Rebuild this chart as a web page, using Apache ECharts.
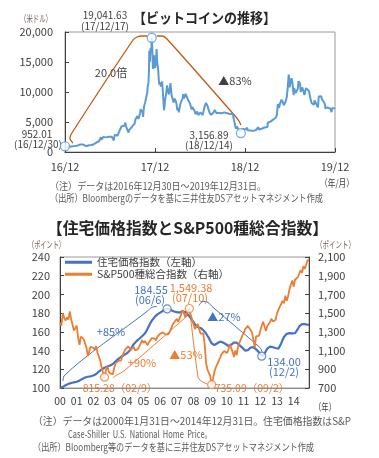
<!DOCTYPE html>
<html><head><meta charset="utf-8">
<script src="https://cdn.jsdelivr.net/npm/echarts@6/dist/echarts.min.js"></script>
<style>html,body{margin:0;padding:0;background:#fff}#c{width:379px;height:458px}</style>
</head><body><div id="c"></div>
<script>
const FONT = '"Noto Sans CJK JP","Noto Sans",sans-serif';

// ---------- Top chart: Bitcoin (USD) ----------
const btcStart = '2016-12-30';
const btcEnd = '2019-12-31';
const btcPrices = [
['2016-12-30',952.01],['2017-01-01',998],['2017-01-04',1154],['2017-01-05',1013],['2017-01-07',894],['2017-01-11',780],['2017-01-14',818],['2017-01-18',870],['2017-01-22',925],['2017-01-26',915],['2017-01-31',965],
['2017-02-04',1032],['2017-02-08',1062],['2017-02-11',1000],['2017-02-15',1010],['2017-02-20',1080],['2017-02-24',1180],['2017-02-28',1190],
['2017-03-03',1260],['2017-03-10',1120],['2017-03-14',1245],['2017-03-18',970],['2017-03-22',1045],['2017-03-26',960],['2017-03-31',1080],
['2017-04-05',1130],['2017-04-10',1200],['2017-04-15',1180],['2017-04-20',1230],['2017-04-25',1265],['2017-04-30',1350],
['2017-05-05',1545],['2017-05-09',1725],['2017-05-13',1740],['2017-05-17',1790],['2017-05-21',2050],['2017-05-25',2480],['2017-05-27',2050],['2017-05-31',2300],
['2017-06-04',2520],['2017-06-08',2800],['2017-06-12',2660],['2017-06-15',2440],['2017-06-19',2600],['2017-06-23',2720],['2017-06-27',2550],['2017-06-30',2480],
['2017-07-04',2600],['2017-07-08',2550],['2017-07-12',2370],['2017-07-16',1930],['2017-07-20',2870],['2017-07-24',2760],['2017-07-28',2790],
['2017-08-01',2720],['2017-08-05',3230],['2017-08-08',3420],['2017-08-12',3880],['2017-08-15',4180],['2017-08-17',4300],['2017-08-20',4100],['2017-08-24',4320],['2017-08-28',4380],
['2017-09-01',4900],['2017-09-04',4240],['2017-09-08',4230],['2017-09-12',4170],['2017-09-14',3240],['2017-09-17',3700],['2017-09-20',3930],['2017-09-24',3680],['2017-09-28',4210],
['2017-10-01',4400],['2017-10-05',4230],['2017-10-09',4770],['2017-10-12',5440],['2017-10-15',5690],['2017-10-20',6000],['2017-10-24',5520],['2017-10-28',5770],['2017-10-31',6470],
['2017-11-02',7140],['2017-11-05',7400],['2017-11-08',7460],['2017-11-10',6620],['2017-11-12',5860],['2017-11-15',7320],['2017-11-17',7790],['2017-11-20',8200],['2017-11-24',8200],['2017-11-26',9330],['2017-11-29',9900],
['2017-12-01',10980],['2017-12-04',11600],['2017-12-06',13750],['2017-12-07',16870],['2017-12-08',16050],['2017-12-10',15060],['2017-12-12',17280],['2017-12-14',16400],['2017-12-16',17700],['2017-12-17',19041.63],['2017-12-18',18960],['2017-12-19',17600],['2017-12-20',16500],['2017-12-22',13830],['2017-12-24',13900],['2017-12-26',16100],['2017-12-28',14400],['2017-12-31',14000],
['2018-01-02',14950],['2018-01-04',15200],['2018-01-06',17170],['2018-01-08',14970],['2018-01-10',14400],['2018-01-12',13900],['2018-01-14',13650],['2018-01-16',11250],['2018-01-17',11100],['2018-01-19',11600],['2018-01-21',11600],['2018-01-23',10900],['2018-01-25',11200],['2018-01-28',11750],['2018-01-31',10220],
['2018-02-02',8830],['2018-02-05',6950],['2018-02-07',7620],['2018-02-09',8600],['2018-02-12',8900],['2018-02-15',10170],['2018-02-17',11100],['2018-02-20',11400],['2018-02-22',10000],['2018-02-25',9600],['2018-02-28',10400],
['2018-03-03',11500],['2018-03-05',11600],['2018-03-08',9400],['2018-03-11',9600],['2018-03-13',9100],['2018-03-16',8270],['2018-03-18',8200],['2018-03-20',8900],['2018-03-22',8700],['2018-03-25',8470],['2018-03-28',7900],['2018-03-31',6930],
['2018-04-03',7400],['2018-04-06',6620],['2018-04-09',6780],['2018-04-12',7900],['2018-04-15',8350],['2018-04-18',8170],['2018-04-21',8850],['2018-04-24',9650],['2018-04-27',8940],['2018-04-30',9240],
['2018-05-04',9700],['2018-05-07',9370],['2018-05-10',9020],['2018-05-13',8710],['2018-05-16',8480],['2018-05-19',8250],['2018-05-22',8050],['2018-05-25',7480],['2018-05-28',7110],['2018-05-31',7490],
['2018-06-04',7490],['2018-06-07',7690],['2018-06-10',6770],['2018-06-13',6300],['2018-06-16',6540],['2018-06-20',6740],['2018-06-24',6160],['2018-06-28',5900],['2018-06-30',6390],
['2018-07-03',6590],['2018-07-06',6550],['2018-07-09',6740],['2018-07-12',6150],['2018-07-15',6350],['2018-07-18',7330],['2018-07-22',7400],['2018-07-25',8190],['2018-07-28',8240],['2018-07-31',7740],
['2018-08-03',7420],['2018-08-06',6930],['2018-08-09',6560],['2018-08-12',6290],['2018-08-14',6190],['2018-08-17',6310],['2018-08-20',6290],['2018-08-23',6500],['2018-08-26',6710],['2018-08-30',6990],
['2018-09-02',7270],['2018-09-05',6520],['2018-09-08',6230],['2018-09-12',6340],['2018-09-16',6500],['2018-09-20',6480],['2018-09-22',6710],['2018-09-26',6450],['2018-09-30',6630],
['2018-10-04',6550],['2018-10-08',6600],['2018-10-11',6270],['2018-10-15',6540],['2018-10-19',6450],['2018-10-23',6450],['2018-10-27',6460],['2018-10-31',6320],
['2018-11-04',6460],['2018-11-08',6440],['2018-11-12',6370],['2018-11-14',5650],['2018-11-17',5600],['2018-11-19',4800],['2018-11-20',4450],['2018-11-22',4300],['2018-11-24',3880],['2018-11-25',4010],['2018-11-28',4280],['2018-11-30',4020],
['2018-12-03',3820],['2018-12-06',3510],['2018-12-09',3610],['2018-12-12',3480],['2018-12-14',3156.89],['2018-12-16',3250],['2018-12-19',3750],['2018-12-21',3900],['2018-12-24',4040],['2018-12-27',3580],['2018-12-31',3740],
['2019-01-03',3790],['2019-01-06',4050],['2019-01-09',4020],['2019-01-10',3620],['2019-01-14',3680],['2019-01-18',3600],['2019-01-22',3600],['2019-01-26',3580],['2019-01-29',3420],
['2019-02-02',3520],['2019-02-06',3400],['2019-02-08',3650],['2019-02-12',3620],['2019-02-16',3620],['2019-02-19',3910],['2019-02-23',4140],['2019-02-24',3740],['2019-02-28',3850],
['2019-03-04',3740],['2019-03-08',3880],['2019-03-12',3920],['2019-03-16',4040],['2019-03-20',4080],['2019-03-24',4030],['2019-03-28',4040],
['2019-04-01',4150],['2019-04-02',4880],['2019-04-05',5060],['2019-04-09',5190],['2019-04-13',5070],['2019-04-17',5240],['2019-04-21',5320],['2019-04-25',5430],['2019-04-29',5290],
['2019-05-02',5630],['2019-05-05',5760],['2019-05-09',6170],['2019-05-11',7060],['2019-05-13',7990],['2019-05-16',7880],['2019-05-18',7360],['2019-05-21',7970],['2019-05-25',8060],['2019-05-28',8720],['2019-05-31',8570],
['2019-06-03',8200],['2019-06-06',7800],['2019-06-09',7650],['2019-06-12',8230],['2019-06-15',8690],['2019-06-18',9080],['2019-06-22',10700],['2019-06-24',11000],['2019-06-26',12900],['2019-06-28',12400],['2019-06-30',10800],
['2019-07-02',10600],['2019-07-05',10980],['2019-07-08',12300],['2019-07-10',12100],['2019-07-12',11350],['2019-07-14',10300],['2019-07-16',9470],['2019-07-18',10650],['2019-07-21',10530],['2019-07-24',9850],['2019-07-27',9530],['2019-07-30',9550],
['2019-08-02',10500],['2019-08-05',11800],['2019-08-08',11900],['2019-08-11',11400],['2019-08-14',10020],['2019-08-17',10370],['2019-08-20',10760],['2019-08-23',10400],['2019-08-26',10320],['2019-08-29',9500],
['2019-09-01',9630],['2019-09-04',10610],['2019-09-08',10400],['2019-09-12',10350],['2019-09-16',10200],['2019-09-20',10180],['2019-09-24',8560],['2019-09-27',8160],['2019-09-30',8310],
['2019-10-03',8210],['2019-10-06',7870],['2019-10-09',8590],['2019-10-12',8330],['2019-10-16',8000],['2019-10-20',8220],['2019-10-23',7430],['2019-10-25',8660],['2019-10-26',9250],['2019-10-29',9420],
['2019-11-01',9260],['2019-11-05',9310],['2019-11-08',8800],['2019-11-12',8760],['2019-11-16',8500],['2019-11-19',8120],['2019-11-22',7290],['2019-11-25',7150],['2019-11-28',7530],
['2019-12-01',7420],['2019-12-04',7190],['2019-12-08',7510],['2019-12-12',7240],['2019-12-15',7090],['2019-12-17',6640],['2019-12-19',7280],['2019-12-22',7510],['2019-12-25',7240],['2019-12-28',7300],['2019-12-31',7200]
];
const btcMarks = [['2016-12-30',952.01],['2017-12-17',19041.63],['2018-12-14',3156.89]];
// annotation brackets: [days since start, USD]
const btcRiseBracket = [[32,1500],[20,2300],[28,3167],[276,18667],[292,19167],[313,19333],[333,19333]];
const btcFallBracket = [[373,19333],[394,19333],[414,18833],[694,5833],[706,5167],[714,4500]];

// ---------- Bottom chart: monthly 2000-01 .. 2014-12 ----------
const yearLabels = ['00','01','02','03','04','05','06','07','08','09','10','11','12','13','14'];
const housingIndex = [
100.0,100.5,101.2,102.0,102.9,103.7,104.4,104.9,105.3,105.7,106.0,106.3,
106.7,107.2,107.9,108.8,109.7,110.5,111.2,111.7,112.0,112.3,112.5,112.8,
113.3,113.9,114.9,116.2,117.6,118.9,120.0,120.9,121.7,122.4,123.0,123.6,
124.1,124.7,125.7,127.0,128.4,129.8,131.1,132.3,133.4,134.4,135.3,136.2,
137.0,138.1,139.8,142.0,144.5,146.8,148.7,150.1,151.3,152.6,153.9,155.3,
156.7,158.3,160.6,163.5,166.5,169.4,172.0,174.1,175.8,177.4,178.7,179.8,
180.6,181.3,182.5,183.6,184.3,184.55,184.4,183.8,183.0,182.3,181.8,181.5,
181.0,180.4,180.6,181.4,181.9,181.9,181.2,179.9,178.4,176.7,174.8,172.8,
170.4,168.0,166.3,165.2,164.7,164.2,163.3,161.9,160.2,158.2,155.8,153.5,
150.6,147.8,146.2,145.8,146.5,147.8,148.9,149.5,149.4,148.8,147.9,147.1,
146.0,144.8,144.8,146.1,147.7,148.6,148.8,148.4,147.2,145.8,144.6,143.2,
141.6,140.0,139.5,140.4,142.0,143.3,143.8,143.7,142.8,141.3,139.7,138.3,
135.9,134.0,134.4,136.6,139.5,142.1,143.5,144.2,144.1,143.6,143.0,142.7,
142.2,142.0,143.9,147.6,151.4,154.5,156.6,157.9,158.5,158.7,158.5,158.4,
158.5,158.5,160.2,163.1,165.8,167.6,168.4,168.6,168.3,168.0,167.6,167.4
];
const sp500 = [
1394.46,1366.42,1498.58,1452.43,1420.60,1454.60,1430.83,1517.68,1436.51,1429.40,1314.95,1320.28,
1366.01,1239.94,1160.33,1249.46,1255.82,1224.42,1211.23,1133.58,1040.94,1059.78,1139.45,1148.08,
1130.20,1106.73,1147.39,1076.92,1067.14,989.82,911.62,916.07,815.28,885.76,936.31,879.82,
855.70,841.15,848.18,916.92,963.59,974.50,990.31,1008.01,995.97,1050.71,1058.20,1111.92,
1131.13,1144.94,1126.21,1107.30,1120.68,1140.84,1101.72,1104.24,1114.58,1130.20,1173.82,1211.92,
1181.27,1203.60,1180.59,1156.85,1191.50,1191.33,1234.18,1220.33,1228.81,1207.01,1249.48,1248.29,
1280.08,1280.66,1294.83,1310.61,1270.09,1270.20,1276.66,1303.82,1335.85,1377.94,1400.63,1418.30,
1438.24,1406.82,1420.86,1482.37,1530.62,1503.35,1455.27,1473.99,1526.75,1549.38,1481.14,1468.36,
1378.55,1330.63,1322.70,1385.59,1400.38,1280.00,1267.38,1282.83,1166.36,968.75,896.24,903.25,
825.88,735.09,797.87,872.81,919.14,919.32,987.48,1020.62,1057.08,1036.19,1095.63,1115.10,
1073.87,1104.49,1169.43,1186.69,1089.41,1030.71,1101.60,1049.33,1141.20,1183.26,1180.55,1257.64,
1286.12,1327.22,1325.83,1363.61,1345.20,1320.64,1292.28,1218.89,1131.42,1253.30,1246.96,1257.60,
1312.41,1365.68,1408.47,1397.91,1310.33,1362.16,1379.32,1406.58,1440.67,1412.16,1416.18,1426.19,
1498.11,1514.68,1569.19,1597.57,1630.74,1606.28,1685.73,1632.97,1681.55,1756.54,1805.81,1848.36,
1782.59,1859.45,1872.34,1883.95,1923.57,1960.23,1930.67,2003.37,1972.29,2018.05,2067.56,2058.90
];
const housingMarks = [['2006-06',184.55],['2012-02',134.00]];
const spMarks = [['2002-09',815.28],['2007-10',1549.38],['2009-02',735.09]];
// annotation brackets: [month index, value]
const housingRiseBracket = [[2.2,107.5],[2.9,112.9],[62.5,181.8],[66.1,186.2],[69.7,187.2]];
const housingFallBracket = [[99.9,188.3],[102.8,192.6],[106.4,191.5],[110.0,186.2],[143.8,143.1],[145.2,138.8]];
const spRiseBracket = [[38.1,807.7],[41.0,840],[46.0,883],[93.5,1497]];
const spFallBracket = [[93.5,1508],[99.2,818],[101.4,775],[105.7,743]];

// ---------- helpers ----------
const DAY = 86400000;
const t0 = Date.parse(btcStart + 'T00:00:00Z');
const dayIndex = d => Math.round((Date.parse(d + 'T00:00:00Z') - t0) / DAY);
const btcSpan = dayIndex(btcEnd);
const monthIndex = s => { const [y, m] = s.split('-').map(Number); return (y - 2000) * 12 + (m - 1); };

const mctx = document.createElement('canvas').getContext('2d');
function measure(str, size, weight) { mctx.font = (weight || 'normal') + ' ' + size + 'px ' + FONT; return mctx.measureText(str).width; }
function fitText(str, left, right, y, size, color, weight) {
  const w = measure(str, size, weight);
  return { type: 'text', x: left, y: y, scaleX: (right - left) / w, silent: true,
    style: { text: str, x: 0, y: 0, fill: color, font: (weight || 'normal') + ' ' + size + 'px ' + FONT,
      align: 'left', verticalAlign: 'middle', textAlign: 'left', textVerticalAlign: 'middle' } };
}
function label(str, cx, y, size, color) {
  return { type: 'text', x: cx, y: y, silent: true,
    style: { text: str, x: 0, y: 0, fill: color, font: size + 'px ' + FONT,
      align: 'center', verticalAlign: 'middle', textAlign: 'center', textVerticalAlign: 'middle' } };
}

const AX = '#404040', TXT = '#404040', UNIT = '#6e5f55';
const BLUE = '#4472C4', ORANGE = '#ED7D31', BTC = '#5B9BD5', BR = '#C55A11';

const chart = echarts.init(document.getElementById('c'), null, { renderer: 'canvas' });
chart.setOption({
  animation: false,
  backgroundColor: '#fff',
  textStyle: { fontFamily: FONT },
  grid: [
    { left: 65, top: 32, width: 270, height: 120, show: true, borderColor: '#9a9a9a', borderWidth: 1 },
    { left: 60, top: 257, width: 249, height: 131, show: true, borderColor: '#9a9a9a', borderWidth: 1 }
  ],
  legend: {
    left: 65, top: 257, orient: 'vertical', padding: 0, itemGap: 1.5,
    itemWidth: 27, itemHeight: 3, icon: 'rect',
    textStyle: { fontSize: 10.5, color: TXT, fontFamily: FONT },
    data: ['住宅価格指数（左軸）', 'S&P500種総合指数（右軸）']
  },
  xAxis: [
    { type: 'value', gridIndex: 0, min: 0, max: btcSpan, interval: btcSpan / 3,
      axisLine: { show: true, lineStyle: { color: AX } },
      axisTick: { show: true, inside: true, length: 4, lineStyle: { color: AX } },
      splitLine: { show: false },
      axisLabel: { margin: 9, fontSize: 11, color: TXT, fontFamily: FONT, showMinLabel: true, showMaxLabel: true,
        formatter: v => { const d = new Date(t0 + v * DAY); return String(d.getUTCFullYear()).slice(2) + '/' + String(d.getUTCMonth() + 1).padStart(2, '0'); } } },
    { type: 'value', gridIndex: 1, min: 0, max: housingIndex.length - 1, interval: 12,
      axisLine: { show: true, lineStyle: { color: '#8c8c8c' } },
      axisTick: { show: false }, splitLine: { show: false },
      axisLabel: { margin: 8, fontSize: 10.5, color: TXT, fontFamily: FONT, showMinLabel: true, showMaxLabel: true,
        formatter: v => (Math.round(v) % 12 === 0 && yearLabels[Math.round(v) / 12]) ? yearLabels[Math.round(v) / 12] : '' } }
  ],
  yAxis: [
    { type: 'value', gridIndex: 0, min: 0, max: 20000, interval: 5000,
      axisLine: { show: true, lineStyle: { color: AX } },
      axisTick: { show: true, inside: true, length: 4, lineStyle: { color: AX } },
      splitLine: { show: false },
      axisLabel: { margin: 12, fontSize: 11, color: TXT, fontFamily: FONT, formatter: v => v.toLocaleString('en-US') } },
    { type: 'value', gridIndex: 1, min: 100, max: 240, interval: 20,
      axisLine: { show: true, lineStyle: { color: AX } },
      axisTick: { show: true, inside: true, length: 4, lineStyle: { color: AX } },
      splitLine: { show: false },
      axisLabel: { margin: 10, fontSize: 11, color: TXT, fontFamily: FONT } },
    { type: 'value', gridIndex: 1, position: 'right', min: 700, max: 2100, show: false, splitLine: { show: false } },
    { type: 'value', gridIndex: 1, position: 'right', min: 0, max: 1400, interval: 200,
      axisLine: { show: true, lineStyle: { color: AX } },
      axisTick: { show: true, inside: true, length: 4, lineStyle: { color: AX } },
      splitLine: { show: false },
      axisLabel: { margin: 9, fontSize: 11, color: TXT, fontFamily: FONT, formatter: v => (v + 700).toLocaleString('en-US') } }
  ],
  series: [
    { name: 'ビットコイン', type: 'line', xAxisIndex: 0, yAxisIndex: 0, showSymbol: false, symbol: 'none',
      data: btcPrices.map(p => [dayIndex(p[0]), p[1]]), lineStyle: { color: BTC, width: 2 }, itemStyle: { color: BTC }, z: 3 },
    { name: 'btcRise', type: 'line', xAxisIndex: 0, yAxisIndex: 0, symbol: 'none', smooth: 0.3,
      data: btcRiseBracket, lineStyle: { color: BR, width: 1.3 }, z: 2 },
    { name: 'btcFall', type: 'line', xAxisIndex: 0, yAxisIndex: 0, symbol: 'none', smooth: 0.3,
      data: btcFallBracket, lineStyle: { color: BR, width: 1.3 }, z: 2 },
    { name: 'btcMarks', type: 'scatter', xAxisIndex: 0, yAxisIndex: 0, symbol: 'circle', symbolSize: 9,
      data: btcMarks.map(p => [dayIndex(p[0]), p[1]]), itemStyle: { color: '#fff', borderColor: BTC, borderWidth: 1.3 }, z: 5 },

    { name: '住宅価格指数（左軸）', type: 'line', xAxisIndex: 1, yAxisIndex: 1, showSymbol: false, symbol: 'none',
      data: housingIndex.map((v, i) => [i, v]), lineStyle: { color: BLUE, width: 2.2 }, itemStyle: { color: BLUE }, z: 3 },
    { name: 'S&P500種総合指数（右軸）', type: 'line', xAxisIndex: 1, yAxisIndex: 2, showSymbol: false, symbol: 'none',
      data: sp500.map((v, i) => [i, v]), lineStyle: { color: ORANGE, width: 1.8 }, itemStyle: { color: ORANGE }, z: 3 },
    { name: 'hRise', type: 'line', xAxisIndex: 1, yAxisIndex: 1, symbol: 'none', smooth: 0.3,
      data: housingRiseBracket, lineStyle: { color: BLUE, width: 1 }, z: 2 },
    { name: 'hFall', type: 'line', xAxisIndex: 1, yAxisIndex: 1, symbol: 'none', smooth: 0.3,
      data: housingFallBracket, lineStyle: { color: BLUE, width: 1 }, z: 2 },
    { name: 'sRise', type: 'line', xAxisIndex: 1, yAxisIndex: 2, symbol: 'none', smooth: 0.3,
      data: spRiseBracket, lineStyle: { color: ORANGE, width: 1 }, z: 2 },
    { name: 'sFall', type: 'line', xAxisIndex: 1, yAxisIndex: 2, symbol: 'none', smooth: 0.3,
      data: spFallBracket, lineStyle: { color: ORANGE, width: 1 }, z: 2 },
    { name: 'hMarks', type: 'scatter', xAxisIndex: 1, yAxisIndex: 1, symbol: 'circle', symbolSize: 8,
      data: housingMarks.map(p => [monthIndex(p[0]), p[1]]), itemStyle: { color: '#fff', borderColor: BLUE, borderWidth: 1.2 }, z: 5 },
    { name: 'sMarks', type: 'scatter', xAxisIndex: 1, yAxisIndex: 2, symbol: 'circle', symbolSize: 8,
      data: spMarks.map(p => [monthIndex(p[0]), p[1]]), itemStyle: { color: '#fff', borderColor: ORANGE, borderWidth: 1.2 }, z: 5 }
  ],
  graphic: [
    // top chart texts
    fitText('【ビットコインの推移】', 133, 276, 18, 14, '#262626', 'bold'),
    fitText('（米ドル）', 20, 52, 18, 9.5, UNIT),
    label('19,041.63', 105, 15, 10, TXT),
    label('(17/12/17)', 105, 26, 10, TXT),
    label('20.0倍', 111, 73, 11, TXT),
    label('▲83%', 235, 81, 11, TXT),
    label('952.01', 37, 134, 10, TXT),
    label('(16/12/30)', 38, 144, 10, TXT),
    label('3,156.89', 209, 135, 10, TXT),
    label('(18/12/14)', 209, 145, 10, TXT),
    fitText('（年/月）', 320, 354, 183, 10, TXT),
    fitText('（注）データは2016年12月30日～2019年12月31日。', 50, 266, 186, 10, '#595959'),
    fitText('（出所）Bloombergのデータを基に三井住友DSアセットマネジメント作成', 50, 323, 198, 10, '#595959'),
    // bottom chart texts
    fitText('【住宅価格指数とS&P500種総合指数】', 47, 328, 228, 16, '#262626', 'bold'),
    fitText('（ポイント）', 28, 65, 244, 9.5, UNIT),
    fitText('（ポイント）', 316, 355, 244, 9.5, UNIT),
    label('184.55', 151, 290, 11, BLUE),
    label('(06/6)', 150, 300, 11, BLUE),
    label('1,549.38', 191, 288, 11, ORANGE),
    label('(07/10)', 190, 298, 11, ORANGE),
    label('+85%', 111, 332, 11, BLUE),
    label('+90%', 142, 363, 11, ORANGE),
    label('815.28（02/9）', 120, 388, 10.5, ORANGE),
    label('▲53%', 186, 355, 11, ORANGE),
    label('735.09（09/2）', 252, 388, 10.5, ORANGE),
    label('▲27%', 224, 317, 11, BLUE),
    label('134.00', 284, 362, 11, BLUE),
    label('(12/2)', 284, 372, 11, BLUE),
    fitText('（年）', 314, 336, 407, 10, TXT),
    fitText('（注）データは2000年1月31日～2014年12月31日。住宅価格指数はS&P', 33, 351, 421, 10, '#595959'),
    fitText('Case-Shiller  U.S.  National  Home  Price。', 68, 212, 434, 10, '#595959'),
    fitText('（出所）Bloomberg等のデータを基に三井住友DSアセットマネジメント作成', 33, 314, 447, 10, '#595959')
  ]
});
</script>
</body></html>
